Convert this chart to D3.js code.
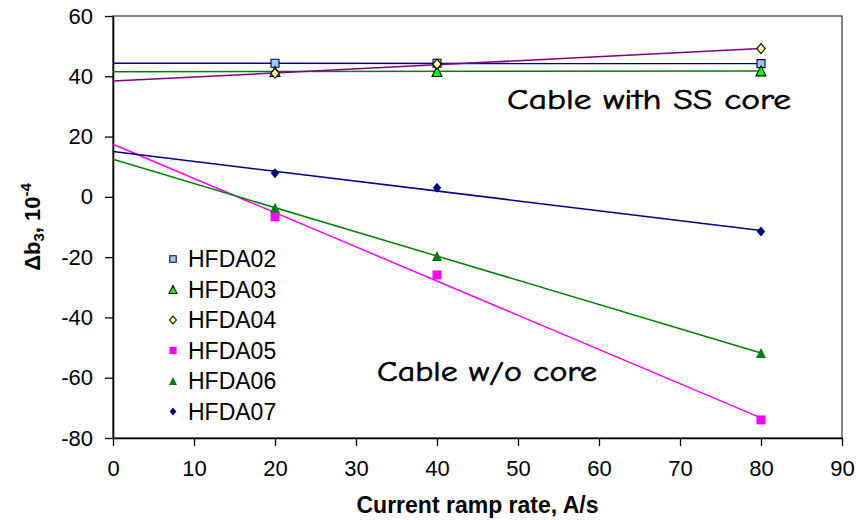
<!DOCTYPE html>
<html>
<head>
<meta charset="utf-8">
<script src="https://cdn.jsdelivr.net/npm/d3@7"></script>
<style>
  html, body { margin: 0; padding: 0; background: #fff; }
  svg { display: block; }
</style>
</head>
<body>
<svg id="chart" width="856" height="520"></svg>
<script>
// Ramp rates (A/s) at which Δb3 was measured
const rampRates = [20, 40, 80];

// Δb3 values, units of 1e-4, per magnet
const seriesNames = ["HFDA02", "HFDA03", "HFDA04", "HFDA05", "HFDA06", "HFDA07"];
const hfda02 = [44.3, 44.3, 44.2];
const hfda03 = [41.6, 41.6, 41.8];
const hfda04 = [41.0, 44.0, 49.2];
const hfda05 = [-6.6, -25.9, -74.0];
const hfda06 = [-3.6, -19.6, -51.8];
const hfda07 = [7.8, 3.0, -11.5];

const xTicks = [0, 10, 20, 30, 40, 50, 60, 70, 80, 90];
const yTicks = [-80, -60, -40, -20, 0, 20, 40, 60];

// marker style and trend-line colour per series
const styles = [
  { shape: "square",   fill: "#99ccff", stroke: "#000033", size: 8,  line: "#000080" },
  { shape: "triangle", fill: "#00ff00", stroke: "#000000", size: 10, line: "#008000" },
  { shape: "diamond",  fill: "#ffff99", stroke: "#000000", size: 10, line: "#800080" },
  { shape: "square",   fill: "#ff00ff", stroke: "none",    size: 9,  line: "#ff00ff" },
  { shape: "triangle", fill: "#008000", stroke: "none",    size: 10, line: "#008000" },
  { shape: "diamond",  fill: "#000080", stroke: "none",    size: 10, line: "#000080" }
];
const values = [hfda02, hfda03, hfda04, hfda05, hfda06, hfda07];

const svg = d3.select("#chart");
const margin = { left: 113, right: 14, top: 16, bottom: 82 };
const W = 856, H = 520;

const x = d3.scaleLinear().domain([0, 90]).range([margin.left, W - margin.right]);
const y = d3.scaleLinear().domain([-80, 60]).range([H - margin.bottom, margin.top]);

// plot frame (top and right edges)
svg.append("rect")
  .attr("x", x(0)).attr("y", y(60))
  .attr("width", x(90) - x(0)).attr("height", y(-80) - y(60))
  .attr("fill", "none").attr("stroke", "#333").attr("stroke-width", 1.2);

// axes, labels with a plain hyphen for negatives
const plain = d => String(d);
const xAxis = svg.append("g")
  .attr("transform", `translate(0,${y(-80)})`)
  .call(d3.axisBottom(x).tickValues(xTicks).tickFormat(plain).tickSize(8).tickSizeOuter(0).tickPadding(10));
const yAxis = svg.append("g")
  .attr("transform", `translate(${x(0)},0)`)
  .call(d3.axisLeft(y).tickValues(yTicks).tickFormat(plain).tickSize(8).tickSizeOuter(0).tickPadding(12));

[xAxis, yAxis].forEach(g => {
  g.select(".domain").attr("stroke", "#000").attr("stroke-width", 1.6);
  g.selectAll(".tick line").attr("stroke", "#000").attr("stroke-width", 1.3);
  g.selectAll(".tick text")
    .attr("font-family", "'Liberation Sans', Arial, sans-serif")
    .attr("font-size", 22).attr("fill", "#000");
});
xAxis.selectAll(".tick text").attr("dy", "0.9em");

// axis titles
svg.append("text")
  .attr("x", (x(0) + x(90)) / 2).attr("y", 513)
  .attr("text-anchor", "middle")
  .attr("font-family", "'Liberation Sans', Arial, sans-serif")
  .attr("font-weight", "bold").attr("font-size", 23)
  .text("Current ramp rate, A/s");

const yTitle = svg.append("text")
  .attr("transform", `translate(40,${(y(60) + y(-80)) / 2}) rotate(-90)`)
  .attr("text-anchor", "middle")
  .attr("font-family", "'Liberation Sans', Arial, sans-serif")
  .attr("font-weight", "bold").attr("font-size", 22);
yTitle.append("tspan").text("Δb");
yTitle.append("tspan").attr("font-size", 15).attr("dy", 4).text("3");
yTitle.append("tspan").attr("dy", -4).text(", 10");
yTitle.append("tspan").attr("font-size", 15).attr("dy", -9).text("-4");

// marker path generator
function markerPath(shape, s) {
  const h = s / 2;
  if (shape === "square") return `M${-h},${-h}H${h}V${h}H${-h}Z`;
  if (shape === "triangle") return `M0,${-h}L${h},${h}L${-h},${h}Z`;
  return `M0,${-h}L${h * 0.85},0L0,${h}L${-h * 0.85},0Z`;
}

// least-squares trend line for each series, drawn from 0 to the last ramp rate
function fit(xs, ys) {
  const mx = d3.mean(xs), my = d3.mean(ys);
  const sxy = d3.sum(xs, (v, i) => (v - mx) * (ys[i] - my));
  const sxx = d3.sum(xs, v => (v - mx) * (v - mx));
  const b = sxy / sxx;
  return { a: my - b * mx, b };
}

const line = d3.line().x(d => x(d[0])).y(d => y(d[1]));
const xEnd = d3.max(rampRates);

values.forEach((vals, i) => {
  const f = fit(rampRates, vals);
  svg.append("path")
    .attr("d", line([[0, f.a], [xEnd, f.a + f.b * xEnd]]))
    .attr("fill", "none")
    .attr("stroke", styles[i].line)
    .attr("stroke-width", 1.5);
});

values.forEach((vals, i) => {
  const st = styles[i];
  svg.append("g").selectAll("path")
    .data(vals.map((v, j) => [rampRates[j], v]))
    .join("path")
    .attr("transform", d => `translate(${x(d[0])},${y(d[1])})`)
    .attr("d", markerPath(st.shape, st.size))
    .attr("fill", st.fill)
    .attr("stroke", st.stroke)
    .attr("stroke-width", st.stroke === "none" ? 0 : 1.1);
});

// legend
const legend = svg.append("g").attr("transform", "translate(173,259)");
seriesNames.forEach((name, i) => {
  const st = styles[i];
  const row = legend.append("g").attr("transform", `translate(0,${i * 30.5})`);
  row.append("path")
    .attr("d", markerPath(st.shape, st.size * 0.8))
    .attr("fill", st.fill)
    .attr("stroke", st.stroke)
    .attr("stroke-width", st.stroke === "none" ? 0 : 1.1);
  row.append("text")
    .attr("x", 15).attr("y", 0).attr("dy", "0.36em")
    .attr("font-family", "'Liberation Sans', Arial, sans-serif")
    .attr("font-size", 23)
    .text(name);
});

// group annotations
const noteFont = "'Comic Sans MS', 'Comic Neue', 'DejaVu Sans', sans-serif";
[["Cable with SS core", 507, 109, 284], ["Cable w/o core", 377, 381, 220]].forEach(([t, tx, ty, len]) => {
  svg.append("text")
    .attr("x", tx).attr("y", ty)
    .attr("font-family", noteFont).attr("font-size", 28)
    .attr("stroke", "#000").attr("stroke-width", 0.6)
    .attr("textLength", len).attr("lengthAdjust", "spacingAndGlyphs")
    .text(t);
});
</script>
</body>
</html>
